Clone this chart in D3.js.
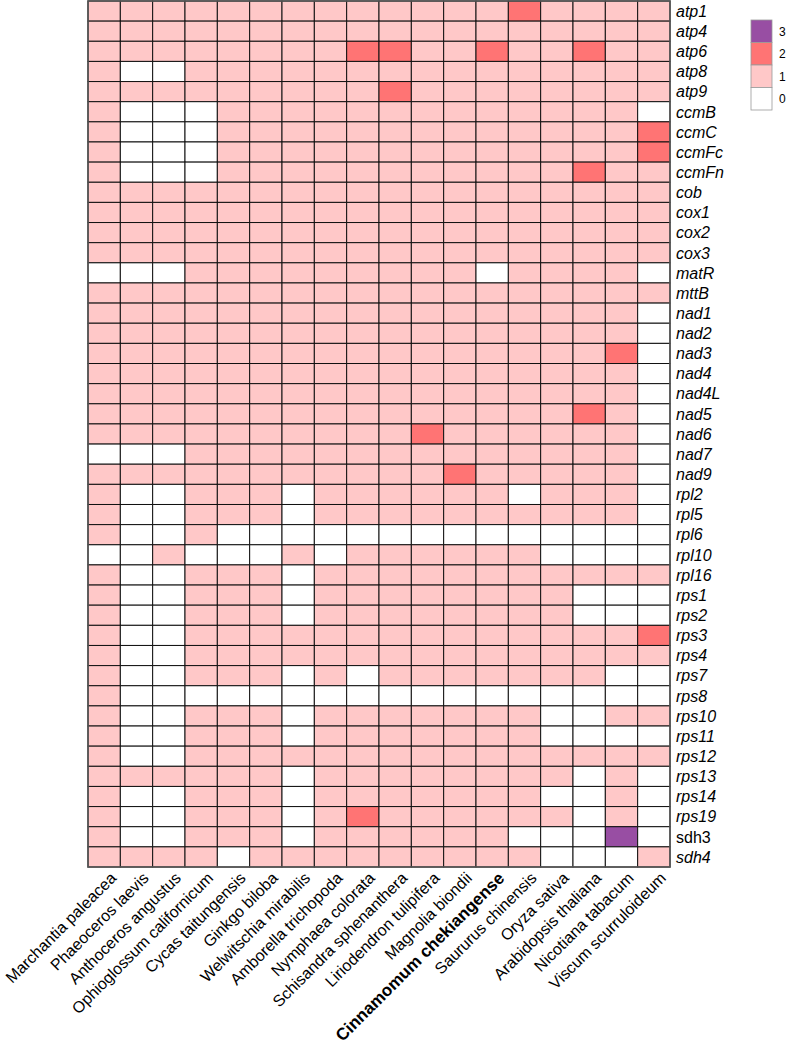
<!DOCTYPE html>
<html><head><meta charset="utf-8">
<script src="https://cdn.jsdelivr.net/npm/d3@7"></script>
<style>body{margin:0;background:#fff;}svg{display:block;}</style>
</head><body>
<svg id="chart" width="787" height="1048"></svg>
<script>
const species = ["Marchantia paleacea","Phaeoceros laevis","Anthoceros angustus","Ophioglossum californicum","Cycas taitungensis","Ginkgo biloba","Welwitschia mirabilis","Amborella trichopoda","Nymphaea colorata","Schisandra sphenanthera","Liriodendron tulipifera","Magnolia biondii","Cinnamomum chekiangense","Saururus chinensis","Oryza sativa","Arabidopsis thaliana","Nicotiana tabacum","Viscum scurruloideum"];
const genes = ["atp1","atp4","atp6","atp8","atp9","ccmB","ccmC","ccmFc","ccmFn","cob","cox1","cox2","cox3","matR","mttB","nad1","nad2","nad3","nad4","nad4L","nad5","nad6","nad7","nad9","rpl2","rpl5","rpl6","rpl10","rpl16","rps1","rps2","rps3","rps4","rps7","rps8","rps10","rps11","rps12","rps13","rps14","rps19","sdh3","sdh4"];
// gene copy numbers, one string per gene, one digit per species (in species order)
const copies = [
"111111111111121111",
"111111111111111111",
"111111112211211211",
"100111111111111111",
"111111111211111111",
"100011111111111110",
"100011111111111112",
"100011111111111112",
"100011111111111211",
"111111111111111111",
"111111111111111111",
"111111111111111111",
"111111111111111111",
"000111111111011110",
"111111111111111111",
"111111111111111110",
"111111111111111110",
"111111111111111120",
"111111111111111110",
"111111111111111110",
"111111111111111210",
"111111111121111110",
"000111111111111110",
"111111111112111110",
"100111011111101110",
"100111011111111110",
"100100000000000000",
"001000101111110000",
"100111011111111111",
"100111011111111000",
"100111011111111000",
"100111111111111112",
"100111111111111111",
"100111010111111100",
"100000000000000000",
"100111011111110011",
"100111011111110000",
"100111111111111111",
"111111011111111010",
"100111011111110010",
"100111012111111010",
"100111011111100030",
"111101111111110001"
];
const uprightGenes = ["sdh3"];
const legendValues = [3,2,1,0];
const colors = ["#FFFFFF","#FFC8C8","#FF7474","#984EA3"];

const svg = d3.select("#chart");
const margin = {left:88, top:1, right:670, bottom:867};
const x = d3.scaleBand().domain(species).range([margin.left, margin.right]);
const y = d3.scaleBand().domain(genes).range([margin.top, margin.bottom]);
const color = d3.scaleOrdinal().domain([0,1,2,3]).range(colors);

const cells = [];
genes.forEach((g,i)=>{ species.forEach((s,j)=>{ cells.push({gene:g, sp:s, v:+copies[i][j]}); }); });

svg.append("g").selectAll("rect").data(cells).join("rect")
  .attr("x", d=>x(d.sp)).attr("y", d=>y(d.gene))
  .attr("width", x.bandwidth()).attr("height", y.bandwidth())
  .attr("fill", d=>color(d.v))
  .attr("stroke", "#111").attr("stroke-width", 1);

svg.append("rect").attr("x", margin.left).attr("y", margin.top)
  .attr("width", margin.right-margin.left).attr("height", margin.bottom-margin.top)
  .attr("fill","none").attr("stroke","#555").attr("stroke-width",1.6);

// row labels
svg.append("g").selectAll("text").data(genes).join("text")
  .attr("x", margin.right + 6)
  .attr("y", d=>y(d)+y.bandwidth()/2)
  .attr("dy","0.36em")
  .attr("font-family","Liberation Sans, Arial, sans-serif")
  .attr("font-size",16)
  .attr("font-style", d=> uprightGenes.includes(d) ? "normal" : "italic")
  .attr("fill","#000")
  .text(d=>d);

// column labels
svg.append("g").selectAll("text").data(species).join("text")
  .attr("transform", d=>`translate(${x(d)+x.bandwidth()/2+9},${margin.bottom+8}) rotate(-45)`)
  .attr("text-anchor","end")
  .attr("dy","0.36em")
  .attr("font-family","Liberation Sans, Arial, sans-serif")
  .attr("font-size", d=> d==="Cinnamomum chekiangense" ? 17 : 16)
  .attr("font-weight", d=> d==="Cinnamomum chekiangense" ? "bold" : "normal")
  .attr("fill","#000")
  .text(d=>d);

// legend
const ly = d3.scaleBand().domain(legendValues).range([20,110]);
const lg = svg.append("g");
lg.selectAll("rect").data(legendValues).join("rect")
  .attr("x",751).attr("y",d=>ly(d)).attr("width",21).attr("height",ly.bandwidth())
  .attr("fill",d=>color(d)).attr("stroke","#999").attr("stroke-width",0.8);
lg.selectAll("text").data(legendValues).join("text")
  .attr("x",779).attr("y",d=>ly(d)+ly.bandwidth()/2).attr("dy","0.36em")
  .attr("font-family","Liberation Sans, Arial, sans-serif").attr("font-size",12)
  .text(d=>d);
</script>
</body></html>
